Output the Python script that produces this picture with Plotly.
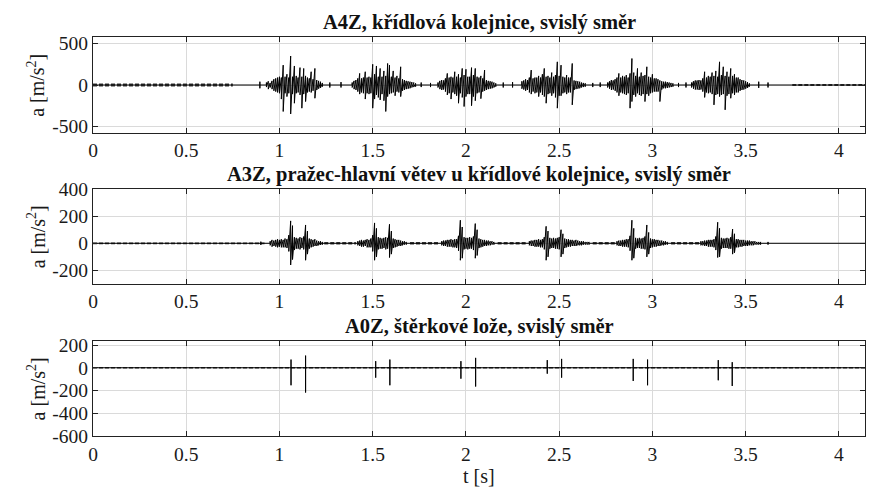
import plotly.graph_objects as go

T_MAX = 4.14
BIN = 0.01  # width of one min/max bin in seconds

# ---------------- A4Z, wing rail ----------------
a4z_start = [0.93, 1.39, 1.85, 2.30, 2.76, 3.21]
a4z_hi = [
    [30, 45, 25, 50, 70, 80, 90, 100, 90, 240, 100, 130, 90, 350, 100, 230,
     110, 90, 210, 100, 200, 110, 90, 80, 160, 70, 200, 60, 50, 40, 25],
    [30, 50, 60, 80, 140, 80, 90, 160, 90, 100, 90, 250, 130, 230, 100, 200,
     100, 170, 110, 260, 240, 100, 170, 90, 110, 80, 220, 70, 60, 50, 45, 40,
     35, 30, 20],
    [30, 50, 60, 55, 80, 140, 90, 100, 90, 160, 100, 130, 90, 200, 120, 190,
     100, 100, 210, 120, 200, 100, 90, 110, 80, 180, 60, 50, 45, 40, 30, 20],
    [45, 55, 70, 60, 90, 180, 80, 90, 90, 110, 90, 130, 200, 100, 110, 90,
     150, 100, 120, 280, 110, 240, 100, 90, 120, 90, 90, 260, 55, 50, 45, 40,
     30, 25, 20],
    [30, 45, 60, 55, 70, 90, 140, 90, 110, 100, 120, 90, 140, 320, 150, 110,
     200, 100, 150, 110, 120, 220, 100, 90, 130, 80, 80, 70, 55, 45, 40, 40,
     35, 30, 25, 20],
    [30, 45, 55, 55, 60, 55, 80, 160, 90, 110, 100, 150, 110, 170, 100, 280,
     120, 220, 110, 160, 100, 200, 110, 130, 90, 90, 70, 60, 55, 45, 35, 20],
]
a4z_lo = [
    [-25, -50, -30, -50, -70, -80, -90, -100, -170, -320, -100, -140, -100, -350,
     -110, -220, -100, -90, -120, -280, -110, -200, -90, -80, -90, -70, -160,
     -60, -45, -35, -20],
    [-30, -50, -60, -80, -110, -90, -100, -170, -100, -110, -100, -280, -170, -120,
     -150, -180, -110, -190, -320, -140, -110, -100, -90, -130, -80, -90, -140,
     -70, -60, -50, -45, -40, -30, -25, -20],
    [-30, -50, -60, -55, -80, -120, -100, -170, -90, -110, -130, -220, -100, -150,
     -260, -140, -110, -110, -250, -140, -190, -100, -90, -165, -80, -70, -60,
     -50, -45, -40, -30, -20],
    [-45, -55, -70, -60, -90, -110, -80, -100, -90, -140, -90, -120, -140, -220,
     -110, -100, -130, -100, -150, -280, -130, -130, -100, -90, -110, -90, -90,
     -240, -60, -50, -45, -40, -30, -25, -20],
    [-30, -45, -60, -55, -70, -90, -130, -90, -100, -110, -120, -100, -280, -200,
     -120, -140, -100, -120, -130, -110, -200, -110, -130, -100, -90, -80, -80,
     -80, -200, -55, -40, -40, -35, -30, -25, -20],
    [-30, -45, -55, -55, -60, -55, -80, -150, -90, -100, -90, -110, -240, -120,
     -110, -140, -120, -110, -300, -130, -110, -160, -100, -120, -90, -90, -70,
     -60, -55, -45, -35, -20],
]
a4z_spike_t = [0.895, 1.27, 1.33, 1.76, 1.81, 2.20, 2.25, 2.68, 2.72, 3.14, 3.18, 3.57, 3.62]
a4z_spike_hi = [40, 30, 35, 30, 25, 30, 35, 25, 30, 25, 30, 40, 30]
a4z_spike_lo = [-40, -30, -30, -25, -25, -30, -30, -25, -25, -25, -30, -35, -30]
a4z_noise_from = [0.0, 3.75]
a4z_noise_to = [0.75, 4.14]
a4z_noise_width = [3, 2]
a4z_yticks = [-500, 0, 500]
a4z_yrange = [-580, 580]

# ---------------- A3Z, sleeper ----------------
a3z_start = [0.95, 1.42, 1.87, 2.34, 2.81, 3.26]
a3z_hi = [
    [15, 25, 20, 25, 30, 25, 30, 25, 35, 30, 60, 165, 130, 45, 40, 35, 45, 40, 50,
     135, 90, 35, 30, 25, 30, 20, 15, 15, 10],
    [15, 20, 25, 20, 25, 30, 25, 35, 60, 150, 110, 45, 40, 35, 40, 45, 40, 140, 90,
     35, 30, 25, 25, 20, 15, 15, 10],
    [15, 20, 20, 25, 25, 30, 25, 30, 30, 55, 170, 120, 45, 40, 40, 45, 40, 50, 145,
     100, 35, 30, 25, 25, 20, 20, 15, 15, 10],
    [15, 20, 20, 25, 25, 30, 25, 30, 45, 125, 90, 40, 35, 40, 35, 40, 45, 100, 70,
     35, 30, 30, 25, 25, 20, 25, 20, 15, 15, 15, 10, 10, 10],
    [15, 20, 20, 25, 25, 30, 30, 55, 170, 110, 40, 35, 40, 35, 40, 50, 135, 80, 35,
     30, 30, 25, 25, 20, 20, 15, 15, 10],
    [15, 15, 20, 20, 25, 25, 25, 30, 50, 155, 110, 40, 35, 35, 40, 35, 45, 105, 70,
     30, 30, 25, 25, 25, 20, 20, 20, 15, 15, 15, 10, 10, 10],
]
a3z_lo = [
    [-15, -25, -20, -25, -30, -25, -30, -30, -30, -35, -60, -160, -120, -50, -40,
     -40, -45, -35, -45, -125, -80, -40, -30, -25, -20, -20, -15, -12, -10],
    [-15, -20, -25, -25, -20, -30, -30, -30, -60, -125, -100, -45, -40, -40, -35,
     -45, -40, -105, -80, -35, -30, -25, -20, -20, -15, -10, -10],
    [-15, -20, -20, -25, -25, -25, -30, -30, -35, -55, -125, -110, -45, -40, -45,
     -40, -40, -50, -110, -90, -35, -30, -25, -20, -20, -15, -15, -10, -10],
    [-15, -20, -20, -25, -25, -25, -30, -30, -45, -125, -100, -40, -35, -35, -40,
     -40, -45, -100, -80, -35, -30, -25, -25, -20, -20, -20, -15, -15, -15, -10,
     -10, -10, -10],
    [-15, -20, -20, -25, -25, -25, -30, -55, -125, -110, -40, -35, -35, -40, -40,
     -45, -100, -80, -35, -30, -25, -25, -20, -20, -15, -15, -10, -10],
    [-15, -15, -20, -20, -25, -25, -25, -30, -50, -105, -100, -40, -35, -35, -35,
     -40, -40, -80, -70, -30, -30, -25, -25, -20, -20, -20, -15, -15, -15, -10,
     -10, -10, -10],
]
a3z_spike_t = [0.90, 3.62]
a3z_spike_hi = [12, 10]
a3z_spike_lo = [-12, -10]
a3z_noise_from = [0.0, 1.24, 1.70, 2.17, 2.68, 3.10]
a3z_noise_to = [0.92, 1.41, 1.86, 2.33, 2.80, 3.25]
a3z_noise_width = [1.8, 2.4, 2.4, 2.4, 2.4, 2.4]
a3z_yticks = [-200, 0, 200, 400]
a3z_yrange = [-300, 400]

# ---------------- A0Z, ballast bed ----------------
a0z_start = []
a0z_hi = []
a0z_lo = []
a0z_spike_t = [1.062, 1.140, 1.516, 1.592, 1.973, 2.052, 2.436, 2.513, 2.897, 2.974, 3.353, 3.428]
a0z_spike_hi = [72, 107, 58, 72, 58, 87, 67, 78, 78, 72, 67, 49]
a0z_spike_lo = [-154, -218, -87, -154, -96, -165, -52, -87, -116, -154, -110, -160]
a0z_noise_from = [0.0]
a0z_noise_to = [4.14]
a0z_noise_width = [1.6]
a0z_yticks = [-600, -400, -200, 0, 200]
a0z_yrange = [-600, 235]

titles = [
    "A4Z, křídlová kolejnice, svislý směr",
    "A3Z, pražec-hlavní větev u křídlové kolejnice, svislý směr",
    "A0Z, štěrkové lože, svislý směr",
]
xticks = [0, 0.5, 1, 1.5, 2, 2.5, 3, 3.5, 4]
xtick_text = ["0", "0.5", "1", "1.5", "2", "2.5", "3", "3.5", "4"]


def signal_path(starts, his, los, sp_t, sp_hi, sp_lo):
    """Min/max envelope per bin, joined along the zero baseline."""
    segs = []
    for t0, hi, lo in zip(starts, his, los):
        xs, ys = [], []
        for k, (h, l) in enumerate(zip(hi, lo)):
            t = round(t0 + k * BIN, 4)
            xs += [t, t]
            ys += [h, l]
        segs.append((t0, xs, ys))
    for t, h, l in zip(sp_t, sp_hi, sp_lo):
        segs.append((t, [t, t, t, t], [0, h, l, 0]))
    segs.sort(key=lambda s: s[0])
    x, y = [0.0], [0.0]
    for _, xs, ys in segs:
        x += [xs[0]] + xs + [xs[-1]]
        y += [0] + ys + [0]
    x.append(T_MAX)
    y.append(0)
    return x, y


panels = [
    (a4z_start, a4z_hi, a4z_lo, a4z_spike_t, a4z_spike_hi, a4z_spike_lo,
     a4z_noise_from, a4z_noise_to, a4z_noise_width, a4z_yticks, a4z_yrange),
    (a3z_start, a3z_hi, a3z_lo, a3z_spike_t, a3z_spike_hi, a3z_spike_lo,
     a3z_noise_from, a3z_noise_to, a3z_noise_width, a3z_yticks, a3z_yrange),
    (a0z_start, a0z_hi, a0z_lo, a0z_spike_t, a0z_spike_hi, a0z_spike_lo,
     a0z_noise_from, a0z_noise_to, a0z_noise_width, a0z_yticks, a0z_yrange),
]

# vertical placement of the three axes (paper fractions)
domains = [[0.7594, 1.0], [0.381, 0.619], [0.0, 0.238]]

FONT = "Liberation Serif"
fig = go.Figure()
layout = dict(
    width=870, height=488,
    margin=dict(l=93, r=5, t=37, b=52),
    paper_bgcolor="white", plot_bgcolor="white",
    showlegend=False,
    font=dict(family=FONT, size=19, color="#1a1a1a"),
)
annotations = []

for i, (st, hi, lo, spt, sph, spl, nf, nt, nw, yt, yr) in enumerate(panels):
    n = i + 1
    xa = "x" if n == 1 else f"x{n}"
    ya = "y" if n == 1 else f"y{n}"
    # faint noise on the baseline
    for a, b, w in zip(nf, nt, nw):
        fig.add_trace(go.Scatter(x=[a, b], y=[0, 0], mode="lines",
                                 line=dict(color="#3a3a3a", width=w, dash="4px,2px"),
                                 xaxis=xa, yaxis=ya, hoverinfo="skip"))
    x, y = signal_path(st, hi, lo, spt, sph, spl)
    fig.add_trace(go.Scatter(x=x, y=y, mode="lines",
                             line=dict(color="black", width=1),
                             xaxis=xa, yaxis=ya, hoverinfo="skip"))

    axis_common = dict(showline=True, linecolor="#222", linewidth=1.2, mirror="ticks",
                       ticks="inside", ticklen=5, tickcolor="#222", tickwidth=1.2,
                       showgrid=True, gridcolor="#dadada", gridwidth=1,
                       zeroline=False, tickfont=dict(family=FONT, size=19.5, color="#1a1a1a"))
    layout[f"xaxis{'' if n == 1 else n}"] = dict(
        axis_common, range=[0, T_MAX], anchor=ya, domain=[0, 1],
        tickvals=xticks, ticktext=xtick_text)
    layout[f"yaxis{'' if n == 1 else n}"] = dict(
        axis_common, range=yr, anchor=xa, domain=domains[i],
        tickvals=yt, ticktext=[str(v) for v in yt])

    annotations.append(dict(text=f"<b>{titles[i]}</b>", x=0.5, y=domains[i][1],
                            xref="paper", yref="paper", xanchor="center", yanchor="bottom",
                            yshift=1, showarrow=False,
                            font=dict(family=FONT, size=20.5, color="#111")))
    annotations.append(dict(text="a [m/s<sup>2</sup>]", textangle=-90,
                            x=-0.074, y=(domains[i][0] + domains[i][1]) / 2,
                            xref="paper", yref="paper", xanchor="center", yanchor="middle",
                            showarrow=False, font=dict(family=FONT, size=20, color="#1a1a1a")))

annotations.append(dict(text="t [s]", x=0.5, y=0, xref="paper", yref="paper",
                        xanchor="center", yanchor="top", yshift=-27, showarrow=False,
                        font=dict(family=FONT, size=20, color="#1a1a1a")))
layout["annotations"] = annotations
fig.update_layout(**layout)
fig.write_html("out.html")
